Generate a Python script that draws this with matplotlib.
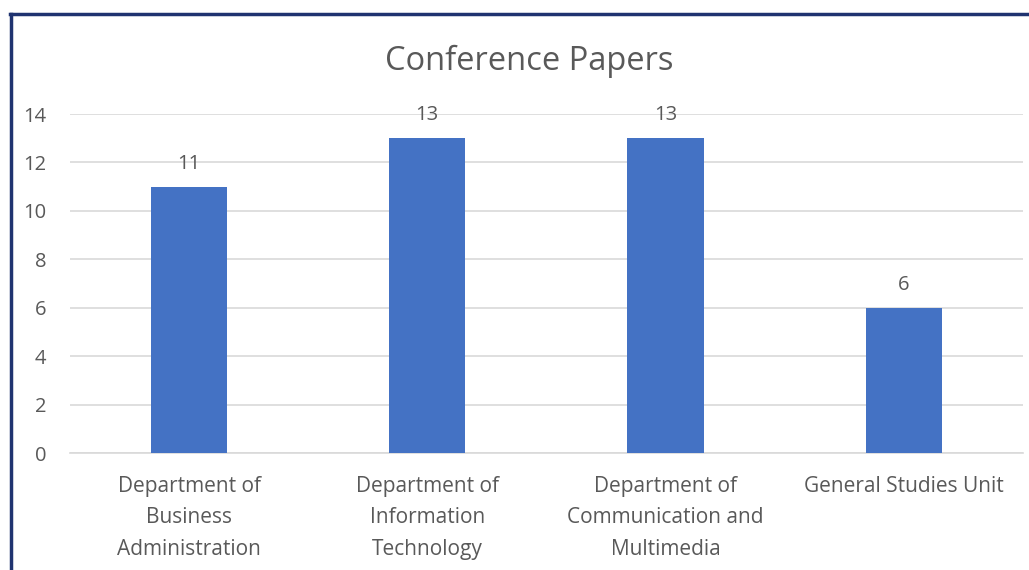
import numpy as np
import matplotlib.pyplot as plt
from matplotlib.lines import Line2D

plt.rcParams['font.family'] = ['Open Sans', 'DejaVu Sans']

departments = ['Department of\nBusiness\nAdministration',
               'Department of\nInformation\nTechnology',
               'Department of\nCommunication and\nMultimedia',
               'General Studies Unit']
papers = [11, 13, 13, 6]
yticks = [0, 2, 4, 6, 8, 10, 12, 14]

grey = '#595959'

fig = plt.figure(figsize=(10.29, 5.70), dpi=100)
ax = fig.add_axes([0.068, 0.205, 0.926, 0.595])

ind = np.arange(len(papers))
bars = ax.bar(ind, papers, 0.32, color='#4472c4', zorder=3)

ax.set_xlim(-0.5, len(papers) - 0.5)
ax.set_ylim(0, 14)
ax.set_yticks(yticks)
ax.yaxis.grid(True, color='#d9d9d9', linewidth=1.2, zorder=0)
ax.set_axisbelow(True)
for s in ['top', 'right', 'left']:
    ax.spines[s].set_visible(False)
ax.spines['bottom'].set_color('#d9d9d9')
ax.spines['bottom'].set_linewidth(1.2)
ax.tick_params(axis='y', length=0, colors=grey, labelsize=14.5, pad=17)
ax.tick_params(axis='x', length=0, colors=grey, labelsize=15, pad=16.5)
ax.set_xticks(ind)
ax.set_xticklabels(departments, linespacing=1.65)

for bar in bars:
    height = bar.get_height()
    ax.text(bar.get_x() + bar.get_width() / 2, height + 0.75, "{}".format(height),
            ha='center', va='baseline', color=grey, fontsize=14.5)

fig.text(0.514, 0.877, 'Conference Papers', ha='center', va='baseline',
         color=grey, fontsize=23.5)

# dark frame on the left and top edges
fig.add_artist(Line2D([0.0107, 0.0107], [0, 0.976], color='#1f3370', linewidth=2.5,
                      transform=fig.transFigure))
fig.add_artist(Line2D([0.0095, 1.0], [0.975, 0.975], color='#1f3370', linewidth=2.5,
                      transform=fig.transFigure))

fig.savefig('out.png', dpi=100)
